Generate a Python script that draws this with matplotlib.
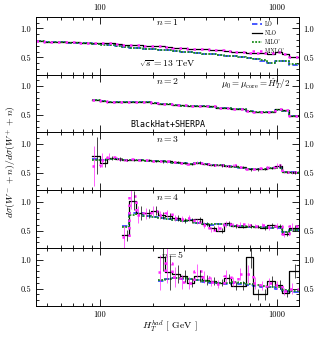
import numpy as np
import matplotlib
matplotlib.use('agg')
import matplotlib.pyplot as plt
from matplotlib.ticker import LogLocator, FixedLocator, NullFormatter, MultipleLocator

plt.rcParams['font.family'] = 'serif'
plt.rcParams['font.serif'] = ['cmr10', 'DejaVu Serif']
plt.rcParams['mathtext.fontset'] = 'cm'
plt.rcParams['axes.formatter.use_mathtext'] = True
plt.rcParams['font.size'] = 6

# common HT bin edges (GeV)
edges = [43.5, 48, 53, 58, 64, 70, 77, 83, 90, 100, 110, 121, 133, 146, 160, 176,
         194, 213, 234, 257, 283, 311, 342, 376, 414, 455, 500, 550, 605, 665,
         730, 800, 880, 970, 1065, 1170, 1330]

# first bin index for each jet multiplicity
start_idx = [0, 8, 8, 12, 17]

# n = 1
n1_lo = [0.78, 0.77, 0.76, 0.76, 0.75, 0.75, 0.74, 0.74, 0.73, 0.73, 0.71, 0.69,
         0.68, 0.67, 0.66, 0.65, 0.64, 0.63, 0.62, 0.61, 0.60, 0.59, 0.58, 0.56,
         0.55, 0.54, 0.53, 0.52, 0.50, 0.49, 0.48, 0.44, 0.40, 0.44, 0.43, 0.37]
n1_nlo = [0.78, 0.77, 0.77, 0.76, 0.76, 0.76, 0.75, 0.75, 0.74, 0.75, 0.74, 0.73,
          0.72, 0.72, 0.71, 0.70, 0.69, 0.69, 0.68, 0.67, 0.66, 0.65, 0.65, 0.64,
          0.63, 0.62, 0.61, 0.60, 0.60, 0.58, 0.58, 0.57, 0.56, 0.60, 0.56, 0.51]
n1_milo = [0.78, 0.77, 0.76, 0.76, 0.75, 0.75, 0.74, 0.74, 0.73, 0.72, 0.71, 0.69,
           0.68, 0.67, 0.66, 0.65, 0.64, 0.63, 0.62, 0.61, 0.60, 0.59, 0.58, 0.56,
           0.55, 0.54, 0.53, 0.52, 0.51, 0.49, 0.48, 0.45, 0.41, 0.44, 0.43, 0.38]
n1_minlo = [0.79, 0.77, 0.77, 0.76, 0.76, 0.76, 0.75, 0.75, 0.75, 0.75, 0.74, 0.73,
            0.72, 0.72, 0.71, 0.70, 0.70, 0.69, 0.68, 0.67, 0.66, 0.65, 0.65, 0.64,
            0.63, 0.62, 0.61, 0.60, 0.60, 0.58, 0.58, 0.57, 0.57, 0.60, 0.56, 0.51]

# n = 2
n2_lo = [0.76, 0.75, 0.73, 0.72, 0.72, 0.72, 0.73, 0.72, 0.71, 0.70, 0.69, 0.67,
         0.66, 0.66, 0.65, 0.66, 0.64, 0.63, 0.62, 0.61, 0.60, 0.58, 0.56, 0.55,
         0.55, 0.59, 0.58, 0.49]
n2_nlo = [0.77, 0.75, 0.73, 0.72, 0.72, 0.73, 0.73, 0.72, 0.71, 0.70, 0.69, 0.67,
          0.67, 0.66, 0.66, 0.66, 0.65, 0.63, 0.62, 0.61, 0.60, 0.58, 0.56, 0.56,
          0.55, 0.60, 0.59, 0.49]
n2_milo = [0.76, 0.75, 0.73, 0.72, 0.72, 0.72, 0.73, 0.72, 0.71, 0.70, 0.69, 0.67,
           0.66, 0.66, 0.65, 0.66, 0.64, 0.63, 0.62, 0.61, 0.60, 0.58, 0.56, 0.55,
           0.55, 0.59, 0.58, 0.49]
n2_minlo = [0.77, 0.75, 0.73, 0.72, 0.72, 0.73, 0.73, 0.72, 0.71, 0.70, 0.69, 0.67,
            0.67, 0.66, 0.66, 0.66, 0.65, 0.63, 0.62, 0.61, 0.60, 0.58, 0.56, 0.56,
            0.55, 0.60, 0.59, 0.49]

# n = 3
n3_lo = [0.74, 0.73, 0.75, 0.74, 0.73, 0.73, 0.72, 0.71, 0.70, 0.70, 0.69, 0.68,
         0.67, 0.66, 0.67, 0.65, 0.64, 0.63, 0.62, 0.61, 0.59, 0.57, 0.56, 0.57,
         0.58, 0.60, 0.52, 0.51]
n3_nlo = [0.80, 0.68, 0.76, 0.74, 0.73, 0.73, 0.72, 0.72, 0.71, 0.70, 0.70, 0.69,
          0.67, 0.66, 0.68, 0.65, 0.64, 0.63, 0.62, 0.62, 0.60, 0.56, 0.56, 0.57,
          0.59, 0.62, 0.52, 0.51]
n3_milo = [0.72, 0.72, 0.75, 0.74, 0.73, 0.72, 0.72, 0.71, 0.70, 0.70, 0.69, 0.68,
           0.67, 0.66, 0.67, 0.65, 0.64, 0.63, 0.62, 0.61, 0.59, 0.57, 0.56, 0.57,
           0.58, 0.59, 0.52, 0.50]
n3_minlo = [0.62, 0.72, 0.78, 0.75, 0.73, 0.74, 0.72, 0.72, 0.71, 0.71, 0.70, 0.69,
            0.67, 0.66, 0.68, 0.65, 0.64, 0.64, 0.62, 0.63, 0.60, 0.57, 0.57, 0.58,
            0.60, 0.63, 0.52, 0.51]
n3_nlo_err = [0.32, 0.08, 0.04, 0.03, 0.02, 0.02, 0.02, 0.02, 0.02, 0.02, 0.02, 0.02,
              0.02, 0.02, 0.02, 0.02, 0.02, 0.02, 0.02, 0.02, 0.02, 0.02, 0.02, 0.02,
              0.02, 0.03, 0.02, 0.02]
n3_minlo_err = [0.35, 0.12, 0.06, 0.03, 0.02, 0.02, 0.02, 0.02, 0.02, 0.02, 0.02, 0.02,
                0.02, 0.02, 0.02, 0.02, 0.02, 0.02, 0.02, 0.02, 0.02, 0.02, 0.02, 0.02,
                0.02, 0.04, 0.02, 0.02]

# n = 4
n4_lo = [0.58, 0.80, 0.80, 0.76, 0.74, 0.72, 0.70, 0.68, 0.67, 0.68, 0.64, 0.62,
         0.60, 0.62, 0.60, 0.58, 0.58, 0.57, 0.57, 0.56, 0.55, 0.55, 0.47, 0.52]
n4_nlo = [0.42, 1.02, 0.80, 0.80, 0.85, 0.77, 0.75, 0.72, 0.68, 0.68, 0.70, 0.62,
          0.55, 0.50, 0.63, 0.58, 0.57, 0.58, 0.57, 0.55, 0.60, 0.58, 0.45, 0.55]
n4_milo = [0.56, 0.78, 0.79, 0.76, 0.74, 0.72, 0.70, 0.68, 0.67, 0.68, 0.64, 0.62,
           0.61, 0.62, 0.60, 0.59, 0.58, 0.57, 0.56, 0.56, 0.55, 0.56, 0.48, 0.52]
n4_minlo = [0.40, 1.10, 0.78, 0.80, 0.84, 0.78, 0.80, 0.72, 0.70, 0.72, 0.66, 0.60,
            0.52, 0.55, 0.62, 0.60, 0.62, 0.60, 0.58, 0.60, 0.56, 0.58, 0.44, 0.58]
n4_nlo_err = [0.10, 0.16, 0.12, 0.08, 0.07, 0.06, 0.05, 0.05, 0.04, 0.04, 0.04, 0.04,
              0.04, 0.04, 0.04, 0.03, 0.03, 0.03, 0.03, 0.03, 0.04, 0.04, 0.04, 0.05]
n4_minlo_err = [0.20, 0.22, 0.14, 0.10, 0.08, 0.07, 0.06, 0.05, 0.05, 0.05, 0.05, 0.05,
                0.05, 0.05, 0.05, 0.04, 0.04, 0.04, 0.04, 0.04, 0.04, 0.05, 0.05, 0.06]

# n = 5
n5_lo = [0.63, 0.66, 0.68, 0.67, 0.66, 0.64, 0.62, 0.60, 0.60, 0.58, 0.60, 0.58,
         0.57, 0.55, 0.52, 0.52, 0.50, 0.45, 0.44]
n5_nlo = [1.05, 0.78, 0.75, 0.72, 0.60, 0.72, 0.65, 0.63, 0.60, 0.68, 0.55, 0.55,
          1.05, 0.40, 0.40, 0.63, 0.57, 0.42, 0.80]
n5_milo = [0.65, 0.67, 0.68, 0.68, 0.67, 0.65, 0.63, 0.61, 0.60, 0.59, 0.61, 0.59,
           0.58, 0.56, 0.54, 0.53, 0.52, 0.47, 0.46]
n5_minlo = [0.78, 0.95, 0.70, 0.62, 0.60, 0.80, 0.70, 0.62, 0.58, 0.72, 0.62, 0.75,
            0.75, 0.60, 0.55, 0.60, 0.56, 0.45, 0.50]
n5_nlo_err = [0.25, 0.30, 0.15, 0.10, 0.08, 0.10, 0.08, 0.07, 0.06, 0.08, 0.07, 0.08,
              0.20, 0.10, 0.10, 0.08, 0.07, 0.06, 0.12]
n5_minlo_err = [0.30, 0.35, 0.18, 0.12, 0.10, 0.12, 0.10, 0.08, 0.07, 0.10, 0.08, 0.10,
                0.15, 0.10, 0.08, 0.08, 0.07, 0.06, 0.10]

panels = [
    (n1_lo, n1_nlo, n1_milo, n1_minlo, None, None),
    (n2_lo, n2_nlo, n2_milo, n2_minlo, None, None),
    (n3_lo, n3_nlo, n3_milo, n3_minlo, n3_nlo_err, n3_minlo_err),
    (n4_lo, n4_nlo, n4_milo, n4_minlo, n4_nlo_err, n4_minlo_err),
    (n5_lo, n5_nlo, n5_milo, n5_minlo, n5_nlo_err, n5_minlo_err),
]

styles = {
    'LO': dict(color='#3a4cff', ls=(0, (3, 1.5)), lw=1.3),
    'NLO': dict(color='black', ls='-', lw=0.9),
    "MiLO'": dict(color='#1a8c1a', ls=(0, (1, 0.8)), lw=1.3),
    "MiNLO'": dict(color='#ff22ff', ls=(0, (1, 2)), lw=1.8),
}
names = ['LO', 'NLO', "MiLO'", "MiNLO'"]

fig = plt.figure(figsize=(3.21, 3.38), dpi=100)
left, right, top, bottom = 0.112, 0.931, 0.950, 0.095
h = (top - bottom) / 5
axes = []
for i in range(5):
    ax = fig.add_axes([left, top - (i + 1) * h, right - left, h])
    axes.append(ax)


def stairs(ax, vals, e, **kw):
    x = np.array(e)
    y = np.append(vals, vals[-1])
    return ax.step(x, y, where='post', **kw)


for i, (ax, data) in enumerate(zip(axes, panels)):
    e = edges[start_idx[i]:]
    lo, nlo, milo, minlo, nerr, merr = data
    handles = []
    for name, vals in zip(names, [lo, nlo, milo, minlo]):
        ln, = stairs(ax, vals, e, label=name, **styles[name])
        handles.append(ln)
    if nerr is not None:
        e_arr = np.array(e)
        cen = np.sqrt(e_arr[:-1] * e_arr[1:])
        ax.errorbar(cen * 1.02, nlo, yerr=nerr, fmt='none', ecolor='black',
                    elinewidth=0.5, capsize=0)
        ax.errorbar(cen * 0.98, minlo, yerr=merr, fmt='none', ecolor='#ff22ff',
                    elinewidth=0.5, capsize=0)
    ax.set_xscale('log')
    ax.set_xlim(43.5, 1330)
    ax.set_ylim(0.2, 1.2)
    ax.yaxis.set_major_locator(FixedLocator([0.5, 1.0]))
    ax.yaxis.set_minor_locator(MultipleLocator(0.1))
    ax.xaxis.set_major_locator(FixedLocator([100, 1000]))
    ax.xaxis.set_minor_locator(LogLocator(base=10, subs=np.arange(2, 10)))
    ax.xaxis.set_minor_formatter(NullFormatter())
    ax.tick_params(which='both', direction='in', top=True, right=True,
                   labelright=True, labelsize=6, width=0.6)
    ax.tick_params(which='major', length=5)
    ax.tick_params(which='minor', length=2.5)
    ax.set_yticklabels(['0.5', '1.0'])
    for s in ax.spines.values():
        s.set_linewidth(0.7)
    if i == 0:
        ax.tick_params(labeltop=True, labelbottom=False)
        ax.set_xticklabels(['100', '1000'])
    elif i == 4:
        ax.set_xticklabels(['100', '1000'])
    else:
        ax.tick_params(labelbottom=False)
    if i == 0:
        ax.legend(handles=handles, loc='upper right', fontsize=4, frameon=False,
                  handlelength=1.8, handletextpad=0.5, labelspacing=0.55,
                  borderaxespad=0.2, bbox_to_anchor=(0.96, 0.98))

# panel annotations
axes[0].text(0.5, 0.86, r'$n=1$', transform=axes[0].transAxes, ha='center', fontsize=7)
axes[0].text(0.5, 0.14, r'$\sqrt{s}=13$ TeV', transform=axes[0].transAxes, ha='center', fontsize=7)
axes[1].text(0.5, 0.84, r'$n=2$', transform=axes[1].transAxes, ha='center', fontsize=7)
axes[1].text(0.97, 0.80, r"$\mu_0=\mu_{\rm core}=\hat{H}_T'/2$", transform=axes[1].transAxes,
             ha='right', fontsize=6.5)
axes[1].text(0.5, 0.10, 'BlackHat+SHERPA', transform=axes[1].transAxes, ha='center',
             fontsize=6, family='DejaVu Sans Mono')
axes[2].text(0.5, 0.84, r'$n=3$', transform=axes[2].transAxes, ha='center', fontsize=7)
axes[3].text(0.5, 0.84, r'$n=4$', transform=axes[3].transAxes, ha='center', fontsize=7)
axes[4].text(0.52, 0.82, r'$n=5$', transform=axes[4].transAxes, ha='center', fontsize=7)

fig.text(0.035, (top + bottom) / 2, r'$d\sigma(W^-+n)/d\sigma(W^++n)$', rotation=90,
         ha='center', va='center', fontsize=7)
fig.text(0.53, 0.035, r'$H_T^{had}$ [ GeV ]', ha='center', va='center', fontsize=7)

fig.savefig('out.png', dpi=100)
